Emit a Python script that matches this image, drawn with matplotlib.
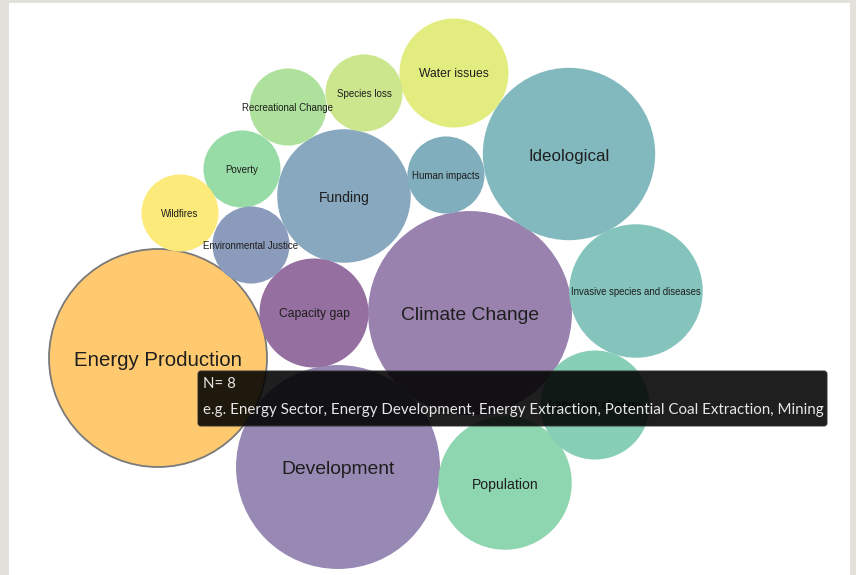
import numpy as np
import matplotlib
matplotlib.use('Agg')
import matplotlib.pyplot as plt
from matplotlib.patches import Circle, Rectangle, FancyBboxPatch

plt.rcParams['font.family'] = ['Liberation Sans', 'DejaVu Sans']

# themes and number of mentions (N)
themes = ['Energy Production', 'Climate Change', 'Development', 'Ideological',
          'Funding', 'Invasive species and diseases', 'Population', 'Land use change',
          'Capacity gap', 'Water issues', 'Human impacts', 'Species loss',
          'Recreational Change', 'Poverty', 'Wildfires', 'Environmental Justice']
counts = [8, 7, 7, 5, 3, 3, 3, 2, 2, 2, 1, 1, 1, 1, 1, 1]
colours = ['#FEC96F', '#9A82AE', '#9789B3', '#82B9BF', '#87A8BE', '#85C4BC',
           '#8ED6B0', '#86CEB6', '#956F9F', '#E3ED7F', '#80AEBD', '#CBE68C',
           '#AEE19B', '#97DCA6', '#FCEB7A', '#8B9BBB']

# bubble layout (pixel positions from the force layout)
layout_x = [158, 470, 338, 569, 344, 636, 505, 595, 314, 454, 446, 364, 288, 242, 180, 251]
layout_y = [358, 313, 467, 154, 196, 291, 483, 405, 313, 73, 175, 93, 107, 169, 213, 245]

tooltip_n = 8
tooltip_examples = ['Energy Sector', 'Energy Development', 'Energy Extraction',
                    'Potential Coal Extraction', 'Mining']

W, H, DPI = 856, 575, 100
fig = plt.figure(figsize=(W / DPI, H / DPI), dpi=DPI, facecolor='#E3E1DC')
ax = fig.add_axes([0, 0, 1, 1])
ax.set_xlim(0, W)
ax.set_ylim(H, 0)
ax.set_aspect('equal')
ax.axis('off')

# white page
ax.add_patch(Rectangle((9, 3), 841, 575, facecolor='white', edgecolor='none', zorder=0))

px = 72 / DPI  # points per pixel
rscale = 109 / np.sqrt(max(counts))
shrink = {'Invasive species and diseases': 9.6}

for name, n, c, x, y in zip(themes, counts, colours, layout_x, layout_y):
    r = rscale * np.sqrt(n)
    hl = name == 'Energy Production'
    ax.add_patch(Circle((x, y), r, facecolor=c,
                        edgecolor='#7a7a7a' if hl else 'none',
                        lw=1.3 if hl else 0, zorder=2))
    fs = shrink.get(name, 4 + 0.15 * r)
    ax.text(x, y + 0.12 * fs, name, ha='center', va='center', fontsize=fs * px,
            color='#1e1e1e', zorder=3)

# hover tooltip
ax.add_patch(FancyBboxPatch((198, 371), 629, 55, boxstyle='round,pad=0,rounding_size=3',
                            facecolor='black', edgecolor='#333333', lw=0.8,
                            alpha=0.88, zorder=5))
ax.text(203, 384, f'N= {tooltip_n}', ha='left', va='center', fontsize=15 * px,
        color='#E6E6E6', family='Lato', zorder=6)
ax.text(203, 410, 'e.g. ' + ', '.join(tooltip_examples), ha='left', va='center',
        fontsize=15.1 * px, color='#E6E6E6', family='Lato', zorder=6)

fig.savefig('out.png', dpi=DPI, facecolor=fig.get_facecolor())
